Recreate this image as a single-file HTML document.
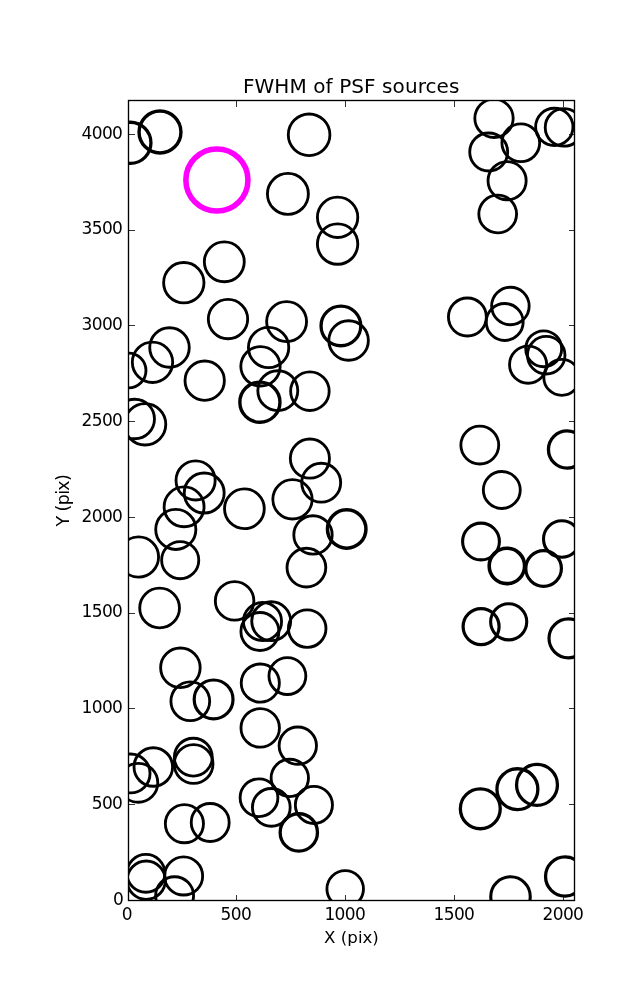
<!DOCTYPE html>
<html><head><meta charset="utf-8"><title>FWHM of PSF sources</title>
<style>
html,body{margin:0;padding:0;background:#fff;}
body{width:637px;height:1000px;overflow:hidden;}
svg{display:block;}
text{font-family:"DejaVu Sans","Liberation Sans",sans-serif;fill:#000;}
.tk{font-size:17px;letter-spacing:-0.62px;}
.lb{font-size:16.67px;}
.yl{font-size:17.4px;letter-spacing:-0.6px;}
.ttl{font-size:20px;letter-spacing:0.08px;}
</style></head><body>
<svg width="637" height="1000" viewBox="0 0 637 1000">
<rect width="637" height="1000" fill="#fff"/>
<defs><clipPath id="ax"><rect x="128.5" y="100.5" width="446" height="800"/></clipPath></defs>
<g clip-path="url(#ax)" fill="none" stroke="#000" stroke-width="2.85">
<circle cx="160.0" cy="132.0" r="20.95" stroke-width="3.4"/>
<circle cx="130.4" cy="142.8" r="20.55" stroke-width="3.3"/>
<circle cx="309.1" cy="134.8" r="20.82"/>
<circle cx="287.9" cy="193.9" r="20.47"/>
<circle cx="337.6" cy="217.3" r="20.18"/>
<circle cx="337.6" cy="244.1" r="20.18"/>
<circle cx="494.0" cy="118.3" r="19.18"/>
<circle cx="488.7" cy="152.0" r="18.97"/>
<circle cx="520.8" cy="142.8" r="18.88"/>
<circle cx="507.1" cy="180.7" r="19.07"/>
<circle cx="497.7" cy="214.0" r="18.88"/>
<circle cx="554.3" cy="126.9" r="18.68"/>
<circle cx="564.0" cy="127.4" r="18.77"/>
<circle cx="224.3" cy="261.8" r="19.97"/>
<circle cx="183.8" cy="282.7" r="20.18"/>
<circle cx="228.0" cy="319.1" r="19.68"/>
<circle cx="169.5" cy="347.5" r="19.77"/>
<circle cx="152.5" cy="362.3" r="20.18"/>
<circle cx="128.6" cy="370.5" r="17.38"/>
<circle cx="204.7" cy="380.7" r="19.68"/>
<circle cx="286.6" cy="321.6" r="19.97"/>
<circle cx="340.9" cy="325.9" r="19.85" stroke-width="3.3"/>
<circle cx="348.6" cy="340.5" r="19.77"/>
<circle cx="268.6" cy="347.5" r="20.18"/>
<circle cx="260.5" cy="366.3" r="19.68"/>
<circle cx="277.8" cy="390.7" r="19.97"/>
<circle cx="309.9" cy="391.2" r="19.27"/>
<circle cx="259.9" cy="402.2" r="20.05" stroke-width="3.4"/>
<circle cx="467.4" cy="317.0" r="18.97"/>
<circle cx="510.4" cy="306.0" r="18.77"/>
<circle cx="504.7" cy="322.0" r="18.47"/>
<circle cx="543.7" cy="348.8" r="17.97"/>
<circle cx="546.2" cy="355.2" r="18.77"/>
<circle cx="528.1" cy="364.7" r="18.57"/>
<circle cx="561.8" cy="377.4" r="17.97"/>
<circle cx="134.7" cy="419.0" r="19.77"/>
<circle cx="145.1" cy="424.3" r="20.68"/>
<circle cx="195.6" cy="480.4" r="19.57"/>
<circle cx="204.2" cy="493.0" r="19.97"/>
<circle cx="184.1" cy="506.8" r="19.97"/>
<circle cx="175.8" cy="529.4" r="20.07"/>
<circle cx="244.4" cy="508.8" r="19.88"/>
<circle cx="138.5" cy="557.0" r="20.07"/>
<circle cx="180.2" cy="560.2" r="18.57"/>
<circle cx="309.9" cy="458.6" r="19.57"/>
<circle cx="321.2" cy="482.7" r="19.47"/>
<circle cx="292.5" cy="499.3" r="19.68"/>
<circle cx="313.0" cy="534.9" r="19.18"/>
<circle cx="346.7" cy="529.0" r="19.25" stroke-width="3.5"/>
<circle cx="306.4" cy="567.6" r="19.38"/>
<circle cx="479.8" cy="445.1" r="18.93"/>
<circle cx="501.8" cy="490.0" r="18.47"/>
<circle cx="567.1" cy="449.5" r="18.65" stroke-width="3.3"/>
<circle cx="481.0" cy="541.5" r="18.40" stroke-width="3.1"/>
<circle cx="561.8" cy="539.0" r="18.30" stroke-width="3.1"/>
<circle cx="506.9" cy="565.9" r="17.70" stroke-width="3.6"/>
<circle cx="543.6" cy="568.5" r="17.80" stroke-width="3.2"/>
<circle cx="159.6" cy="608.0" r="19.88"/>
<circle cx="234.6" cy="600.9" r="19.27"/>
<circle cx="180.4" cy="667.8" r="19.77"/>
<circle cx="190.3" cy="701.3" r="19.38"/>
<circle cx="213.6" cy="699.4" r="19.40" stroke-width="3.2"/>
<circle cx="260.3" cy="683.1" r="19.07"/>
<circle cx="271.2" cy="621.2" r="19.47"/>
<circle cx="262.5" cy="621.6" r="19.07"/>
<circle cx="259.9" cy="631.5" r="18.97"/>
<circle cx="307.2" cy="628.6" r="18.77"/>
<circle cx="287.4" cy="676.1" r="18.43"/>
<circle cx="481.1" cy="626.6" r="18.00" stroke-width="3.2"/>
<circle cx="508.7" cy="621.8" r="18.05" stroke-width="3.1"/>
<circle cx="568.5" cy="638.3" r="19.50" stroke-width="3.2"/>
<circle cx="260.2" cy="727.9" r="19.22"/>
<circle cx="153.3" cy="767.0" r="19.27"/>
<circle cx="193.3" cy="757.2" r="18.97"/>
<circle cx="193.6" cy="764.0" r="19.38"/>
<circle cx="130.6" cy="773.4" r="19.43"/>
<circle cx="138.3" cy="782.8" r="19.47"/>
<circle cx="184.4" cy="823.7" r="19.07"/>
<circle cx="210.2" cy="822.5" r="18.97"/>
<circle cx="259.0" cy="797.7" r="18.88"/>
<circle cx="271.3" cy="807.4" r="18.88"/>
<circle cx="297.8" cy="745.7" r="18.68"/>
<circle cx="289.8" cy="777.9" r="18.68"/>
<circle cx="313.9" cy="804.9" r="18.57"/>
<circle cx="298.8" cy="832.4" r="18.65" stroke-width="3.3"/>
<circle cx="480.3" cy="808.8" r="19.95" stroke-width="3.3"/>
<circle cx="517.4" cy="789.2" r="20.45" stroke-width="3.3"/>
<circle cx="537.0" cy="784.9" r="20.45" stroke-width="3.3"/>
<circle cx="145.9" cy="873.3" r="18.97"/>
<circle cx="146.2" cy="880.2" r="19.18"/>
<circle cx="183.6" cy="875.9" r="19.07"/>
<circle cx="174.6" cy="895.7" r="18.97"/>
<circle cx="345.2" cy="888.9" r="18.27"/>
<circle cx="510.5" cy="896.5" r="19.75" stroke-width="3.1"/>
<circle cx="565.1" cy="876.5" r="19.55" stroke-width="3.3"/>
<circle cx="216.9" cy="180.0" r="31.05" stroke="#ff00ff" stroke-width="5.55"/>
</g>
<g stroke="#000" stroke-opacity="0.8" stroke-width="1" shape-rendering="crispEdges">
<line x1="236.5" y1="900.5" x2="236.5" y2="894.5"/>
<line x1="236.5" y1="100.5" x2="236.5" y2="106.5"/>
<line x1="345.5" y1="900.5" x2="345.5" y2="894.5"/>
<line x1="345.5" y1="100.5" x2="345.5" y2="106.5"/>
<line x1="454.5" y1="900.5" x2="454.5" y2="894.5"/>
<line x1="454.5" y1="100.5" x2="454.5" y2="106.5"/>
<line x1="563.5" y1="900.5" x2="563.5" y2="894.5"/>
<line x1="563.5" y1="100.5" x2="563.5" y2="106.5"/>
<line x1="128.5" y1="804.5" x2="134.5" y2="804.5"/>
<line x1="574.5" y1="804.5" x2="568.5" y2="804.5"/>
<line x1="128.5" y1="708.5" x2="134.5" y2="708.5"/>
<line x1="574.5" y1="708.5" x2="568.5" y2="708.5"/>
<line x1="128.5" y1="613.5" x2="134.5" y2="613.5"/>
<line x1="574.5" y1="613.5" x2="568.5" y2="613.5"/>
<line x1="128.5" y1="517.5" x2="134.5" y2="517.5"/>
<line x1="574.5" y1="517.5" x2="568.5" y2="517.5"/>
<line x1="128.5" y1="421.5" x2="134.5" y2="421.5"/>
<line x1="574.5" y1="421.5" x2="568.5" y2="421.5"/>
<line x1="128.5" y1="325.5" x2="134.5" y2="325.5"/>
<line x1="574.5" y1="325.5" x2="568.5" y2="325.5"/>
<line x1="128.5" y1="230.5" x2="134.5" y2="230.5"/>
<line x1="574.5" y1="230.5" x2="568.5" y2="230.5"/>
<line x1="128.5" y1="134.5" x2="134.5" y2="134.5"/>
<line x1="574.5" y1="134.5" x2="568.5" y2="134.5"/>
</g>
<rect x="128.5" y="100.5" width="446" height="800" fill="none" stroke="#000" stroke-width="1.35"/>
<text class="tk" text-anchor="middle" x="126.8" y="919.5">0</text>
<text class="tk" text-anchor="middle" x="235.8" y="919.5">500</text>
<text class="tk" text-anchor="middle" x="344.8" y="919.5">1000</text>
<text class="tk" text-anchor="middle" x="453.9" y="919.5">1500</text>
<text class="tk" text-anchor="middle" x="562.9" y="919.5">2000</text>
<text class="tk" text-anchor="end" x="123.3" y="904.6">0</text>
<text class="tk" text-anchor="end" x="122.3" y="808.9">500</text>
<text class="tk" text-anchor="end" x="122.3" y="713.1">1000</text>
<text class="tk" text-anchor="end" x="122.3" y="617.4">1500</text>
<text class="tk" text-anchor="end" x="122.3" y="521.6">2000</text>
<text class="tk" text-anchor="end" x="122.3" y="425.9">2500</text>
<text class="tk" text-anchor="end" x="122.3" y="330.1">3000</text>
<text class="tk" text-anchor="end" x="122.3" y="234.4">3500</text>
<text class="tk" text-anchor="end" x="122.3" y="138.6">4000</text>
<text class="ttl" text-anchor="middle" x="351.2" y="92.8">FWHM of PSF sources</text>
<text class="lb" text-anchor="middle" x="351.5" y="943.4">X (pix)</text>
<text class="yl" text-anchor="middle" transform="translate(69,500.6) rotate(-90)">Y (pix)</text>
</svg></body></html>
